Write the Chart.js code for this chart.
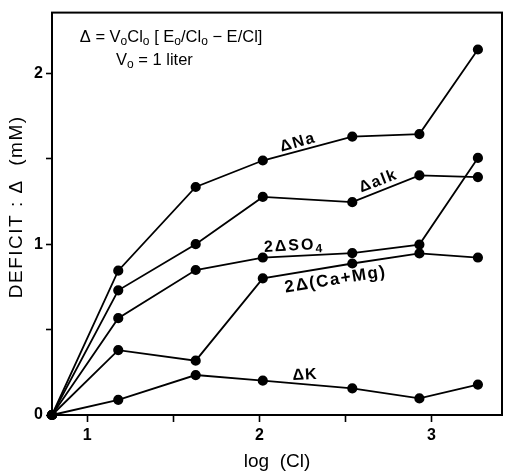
<!DOCTYPE html>
<html lang="en">
<head>
  <meta charset="UTF-8">
  <title>Deficit vs log(Cl)</title>
  <script src="https://cdn.jsdelivr.net/npm/chart.js"></script>
  <style>
    html, body { margin: 0; padding: 0; background: #fff; }
    #wrap { width: 508px; height: 475px; }
  </style>
</head>
<body>
  <div id="wrap"><canvas id="deficitChart"></canvas></div>

  <script>
    // log(Cl) of each sample, the first one is the starting water
    const logCl = [0.795, 1.18, 1.63, 2.02, 2.54, 2.93, 3.27];

    // deficits in mM
    const dNa   = [0, 0.845, 1.335, 1.49, 1.63, 1.645, 2.14];
    const dAlk  = [0, 0.73, 1.0, 1.277, 1.246, 1.403, 1.393];
    const dSO4  = [0, 0.567, 0.849, 0.922, 0.948, 0.998, 1.505];
    const dCaMg = [0, 0.38, 0.318, 0.80, 0.887, 0.946, 0.922];
    const dK    = [0, 0.089, 0.234, 0.201, 0.156, 0.097, 0.178];

    const xTickLabels = { 1: '1', 2: '2', 3: '3' };
    const yTickLabels = { 0: '0', 1: '1', 2: '2' };

    const FONT = '"Liberation Sans", Arial, Helvetica, sans-serif';

    function toPoints(ys) {
      return ys.map((y, i) => ({ x: logCl[i], y: y }));
    }

    function series(label, ys) {
      return {
        label: label,
        data: toPoints(ys),
        showLine: true,
        borderColor: '#000',
        backgroundColor: '#000',
        borderWidth: 1.8,
        pointRadius: 4.2,
        pointHoverRadius: 4.2,
        clip: false
      };
    }

    // draw a list of text runs (some as subscripts) centred on 0,0
    function drawRuns(ctx, runs, size, bold, spacing) {
      const w = bold ? 'bold ' : '';
      const big = w + size + 'px ' + FONT;
      const small = w + Math.round(size * 0.72) + 'px ' + FONT;
      ctx.letterSpacing = (spacing || 0) + 'px';
      let total = 0;
      runs.forEach(r => {
        ctx.font = r.sub ? small : big;
        r.w = ctx.measureText(r.t).width;
        total += r.w;
      });
      let x = -total / 2;
      runs.forEach(r => {
        ctx.font = r.sub ? small : big;
        ctx.fillText(r.t, x, r.sub ? size * 0.28 : 0);
        x += r.w;
      });
      ctx.letterSpacing = '0px';
    }

    // curve names, placed in data units next to their lines
    const curveNotes = [
      { x: 2.224, y: 1.595, rot: -16, size: 16, sp: 1.5, runs: [{ t: 'ΔNa' }] },
      { x: 2.691, y: 1.368, rot: -21, size: 16, sp: 1.5, runs: [{ t: 'Δalk' }] },
      { x: 2.201, y: 0.990, rot: -3,  size: 16, sp: 2,   runs: [{ t: '2ΔSO' }, { t: '4', sub: true }] },
      { x: 2.443, y: 0.792, rot: -9,  size: 17, sp: 1.5, runs: [{ t: '2Δ(Ca+Mg)' }] },
      { x: 2.265, y: 0.234, rot: -3,  size: 16, sp: 1,   runs: [{ t: 'ΔK' }] }
    ];

    const notesPlugin = {
      id: 'notes',
      afterDatasetsDraw(chart) {
        const ctx = chart.ctx;
        const xs = chart.scales.x, ys = chart.scales.y;
        ctx.save();
        ctx.fillStyle = '#000';
        ctx.textBaseline = 'middle';
        ctx.textAlign = 'left';
        curveNotes.forEach(n => {
          ctx.save();
          ctx.translate(xs.getPixelForValue(n.x), ys.getPixelForValue(n.y));
          ctx.rotate(n.rot * Math.PI / 180);
          drawRuns(ctx, n.runs, n.size, true, n.sp);
          ctx.restore();
        });

        // definition of the deficit
        ctx.save();
        ctx.translate(xs.getPixelForValue(1.487), ys.getPixelForValue(2.211));
        drawRuns(ctx, [
          { t: 'Δ = V' }, { t: 'o', sub: true }, { t: 'Cl' }, { t: 'o', sub: true },
          { t: ' [ E' }, { t: 'o', sub: true }, { t: '/Cl' }, { t: 'o', sub: true },
          { t: ' − E/Cl]' }
        ], 16.5, false);
        ctx.restore();
        ctx.save();
        ctx.translate(xs.getPixelForValue(1.39), ys.getPixelForValue(2.077));
        drawRuns(ctx, [{ t: 'V' }, { t: 'o', sub: true }, { t: ' = 1 liter' }], 16.5, false);
        ctx.restore();

        // y axis title
        ctx.save();
        ctx.translate(17, (chart.chartArea.top + chart.chartArea.bottom) / 2 - 7);
        ctx.rotate(-Math.PI / 2);
        drawRuns(ctx, [{ t: 'DEFICIT : Δ  (mM)' }], 19, false, 1.5);
        ctx.restore();

        // frame round the plot
        const a = chart.chartArea;
        ctx.strokeStyle = '#000';
        ctx.lineWidth = 2;
        ctx.strokeRect(a.left, a.top, a.right - a.left, a.bottom - a.top);
        ctx.restore();
      }
    };

    const ctx = document.getElementById('deficitChart').getContext('2d');
    const deficitChart = new Chart(ctx, {
      type: 'scatter',
      data: {
        datasets: [
          series('ΔNa', dNa),
          series('Δalk', dAlk),
          series('2ΔSO4', dSO4),
          series('2Δ(Ca+Mg)', dCaMg),
          series('ΔK', dK)
        ]
      },
      options: {
        responsive: true,
        maintainAspectRatio: false,
        animation: false,
        layout: { padding: { top: 10, right: 2, left: 0, bottom: 0 } },
        plugins: {
          legend: { display: false },
          tooltip: { enabled: false }
        },
        scales: {
          x: {
            type: 'linear',
            min: 0.795,
            max: 3.41,
            border: { display: false },
            grid: { drawOnChartArea: false, tickLength: 7, tickWidth: 1.6, tickColor: '#000' },
            ticks: {
              stepSize: 0.5,
              includeBounds: false,
              padding: 4,
              color: '#000',
              font: { family: FONT, size: 16, weight: 'bold' },
              callback: v => xTickLabels[v] || ''
            },
            title: {
              display: true,
              text: 'log  (Cl)',
              color: '#000',
              font: { family: FONT, size: 19 },
              padding: { top: 0, bottom: 2 }
            },
            afterFit(scale) { scale.height = 60; }
          },
          y: {
            type: 'linear',
            min: 0,
            max: 2.356,
            border: { display: false },
            grid: { drawOnChartArea: false, tickLength: 6, tickWidth: 1.6, tickColor: '#000' },
            ticks: {
              stepSize: 0.5,
              includeBounds: false,
              padding: 3,
              color: '#000',
              font: { family: FONT, size: 16, weight: 'bold' },
              callback: v => yTickLabels[v] || ''
            },
            afterFit(scale) { scale.width = 52; }
          }
        }
      },
      plugins: [notesPlugin]
    });
  </script>
</body>
</html>
